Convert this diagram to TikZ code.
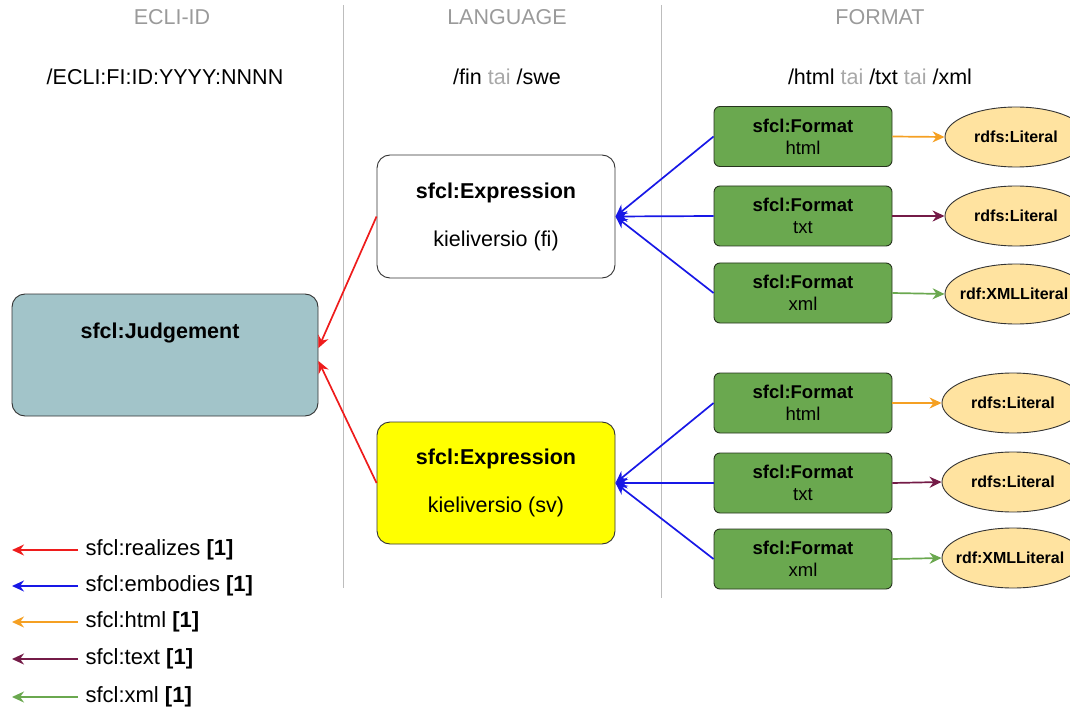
\documentclass[tikz,border=0pt]{standalone}
\usepackage{fontspec}
\setmainfont{Liberation Sans}
\usepackage{tikz}
\usetikzlibrary{arrows.meta,shapes.geometric}

\definecolor{headgray}{HTML}{9A9A9A}
\definecolor{taigray}{HTML}{A8A8A8}
\definecolor{rulegray}{HTML}{BDBDBD}
\definecolor{boxline}{HTML}{333333}
\definecolor{judgeblue}{HTML}{A2C4C9}
\definecolor{exprsv}{HTML}{FFFF00}
\definecolor{formatgreen}{HTML}{6AA84F}
\definecolor{formatline}{HTML}{26331E}
\definecolor{literalfill}{HTML}{FFE3A0}
\definecolor{realizesred}{HTML}{EE1C1C}
\definecolor{embodiesblue}{HTML}{1818E6}
\definecolor{htmlorange}{HTML}{F5A023}
\definecolor{textmaroon}{HTML}{741B47}
\definecolor{xmlgreen}{HTML}{6AA84F}

\begin{document}
\begin{tikzpicture}[x=1pt,y=-1pt]
	\useasboundingbox (0,0) rectangle (1070,711);
	\clip (0,0) rectangle (1070,711);

	% column titles and path patterns
	\begin{scope}[every node/.style={font=\fontsize{21.5}{25}\selectfont}]
		\node[text=headgray] (colecli) at (172,17) {ECLI-ID};
		\node[text=headgray] (collang) at (507,17) {LANGUAGE};
		\node[text=headgray] (colformat) at (880,17) {FORMAT};
		\node (patecli) at (165,77) {/ECLI:FI:ID:YYYY:NNNN};
		\node (patlang) at (507,77) {/fin \textcolor{taigray}{tai} /swe};
		\node (patformat) at (880,77) {/html \textcolor{taigray}{tai} /txt \textcolor{taigray}{tai} /xml};
	\end{scope}

	\draw[rulegray,line width=0.8pt] (343,5) -- (343,588);
	\draw[rulegray,line width=0.8pt] (661,5) -- (661,598);

	% work and expressions
	\begin{scope}[every node/.style={rectangle,rounded corners=13pt,draw=boxline,line width=0.9pt,
	              align=center,font=\fontsize{21.5}{25}\selectfont}]
		\node[fill=judgeblue,minimum width=306pt,minimum height=122pt] (J) at (165,355) {};
		\node[fill=white,minimum width=238pt,minimum height=123pt] (Efi) at (496,216.5)
			{\textbf{sfcl:Expression}\\[23pt]kieliversio (fi)};
		\node[fill=exprsv,minimum width=238pt,minimum height=122pt] (Esv) at (496,483)
			{\textbf{sfcl:Expression}\\[23pt]kieliversio (sv)};
	\end{scope}
	\node[font=\fontsize{21.5}{25}\selectfont\bfseries] (Jtitle) at (160,333) {sfcl:Judgement};

	% manifestations
	\begin{scope}[every node/.style={rectangle,rounded corners=6pt,draw=formatline,line width=0.9pt,
	              fill=formatgreen,minimum width=178pt,minimum height=60pt,
	              align=center,font=\fontsize{18.5}{22}\selectfont}]
		\node (H1) at (803,136.5) {\textbf{sfcl:Format}\\html};
		\node (T1) at (803,216) {\textbf{sfcl:Format}\\txt};
		\node (X1) at (803,293) {\textbf{sfcl:Format}\\xml};
		\node (H2) at (803,403) {\textbf{sfcl:Format}\\html};
		\node (T2) at (803,483) {\textbf{sfcl:Format}\\txt};
		\node (X2) at (803,559) {\textbf{sfcl:Format}\\xml};
	\end{scope}

	% literals (the long label overruns its ellipse, as in the source)
	\begin{scope}[every node/.style={ellipse,draw=boxline,line width=0.9pt,fill=literalfill,
	              minimum width=142pt,minimum height=60pt,inner sep=0pt,
	              font=\fontsize{16}{19}\selectfont\bfseries}]
		\node (L1) at (1016,137) {rdfs:Literal};
		\node (L2) at (1016,216) {rdfs:Literal};
		\node (L3) at (1016,294) {\makebox[0pt]{\hspace{-4pt}rdf:XMLLiteral}};
		\node (L4) at (1013,403) {rdfs:Literal};
		\node (L5) at (1013,482) {rdfs:Literal};
		\node (L6) at (1013,558) {\makebox[0pt]{\hspace{-6pt}rdf:XMLLiteral}};
	\end{scope}

	% legend
	\begin{scope}[every node/.style={anchor=west,font=\fontsize{22}{26}\selectfont}]
		\node (Kreal) at (82,550) {sfcl:realizes \textbf{[1]}};
		\node (Kemb) at (82,586) {sfcl:embodies \textbf{[1]}};
		\node (Khtml) at (82,622) {sfcl:html \textbf{[1]}};
		\node (Ktext) at (82,659) {sfcl:text \textbf{[1]}};
		\node (Kxml) at (82,697) {sfcl:xml \textbf{[1]}};
	\end{scope}
	\coordinate (Krealtip) at (12,550);
	\coordinate (Kembtip) at (12,586);
	\coordinate (Khtmltip) at (12,622);
	\coordinate (Ktexttip) at (12,659);
	\coordinate (Kxmltip) at (12,697);

	\begin{scope}[>={Stealth[length=12pt,width=11pt]},
	              every path/.style={->,line width=1.7pt}]
		\path (Efi.west) edge[realizesred] ([yshift=7pt]J.east);
		\path (Esv.west) edge[realizesred] ([yshift=-6pt]J.east);
		\path (H1.west) edge[embodiesblue] (Efi.east);
		\path (T1.west) edge[embodiesblue] (Efi.east);
		\path (X1.west) edge[embodiesblue] (Efi.east);
		\path (H2.west) edge[embodiesblue] (Esv.east);
		\path (T2.west) edge[embodiesblue] (Esv.east);
		\path (X2.west) edge[embodiesblue] (Esv.east);
		\path (H1.east) edge[htmlorange] (L1.west);
		\path (T1.east) edge[textmaroon] (L2.west);
		\path (X1.east) edge[xmlgreen] (L3.west);
		\path (H2.east) edge[htmlorange] (L4.west);
		\path (T2.east) edge[textmaroon] (L5.west);
		\path (X2.east) edge[xmlgreen] (L6.west);
		\path ([xshift=-4pt]Kreal.west) edge[realizesred] (Krealtip);
		\path ([xshift=-4pt]Kemb.west) edge[embodiesblue] (Kembtip);
		\path ([xshift=-4pt]Khtml.west) edge[htmlorange] (Khtmltip);
		\path ([xshift=-4pt]Ktext.west) edge[textmaroon] (Ktexttip);
		\path ([xshift=-4pt]Kxml.west) edge[xmlgreen] (Kxmltip);
	\end{scope}
\end{tikzpicture}
\end{document}
